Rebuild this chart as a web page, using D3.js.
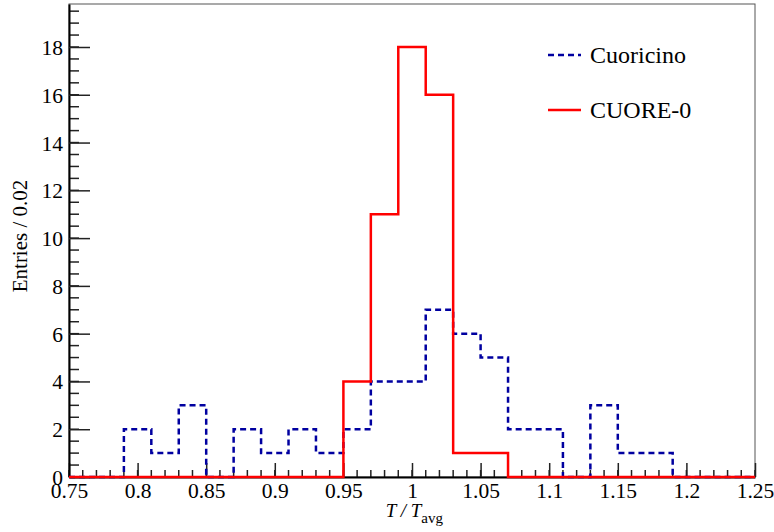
<!DOCTYPE html>
<html lang="en">
<head>
  <meta charset="UTF-8">
  <title>T / Tavg</title>
  <style>
    body { margin: 0; background: #fff; }
    svg text { font-family: "Liberation Serif", serif; }
    .frame { fill: none; stroke: #555; stroke-width: 1; }
    .axis path { stroke: #000; stroke-width: 2; }
    .axis line { stroke: #222; stroke-width: 1.5; }
  </style>
</head>
<body>
<div id="chart"></div>
<script src="https://d3js.org/d3.v7.min.js"></script>
<script>
  // bin edges 0.75 .. 1.25 in steps of 0.02 (25 bins)
  const binLow = [0.75, 0.77, 0.79, 0.81, 0.83, 0.85, 0.87, 0.89, 0.91, 0.93, 0.95, 0.97, 0.99,
                  1.01, 1.03, 1.05, 1.07, 1.09, 1.11, 1.13, 1.15, 1.17, 1.19, 1.21, 1.23];
  const cuoricino = [0, 0, 2, 1, 3, 0, 2, 1, 2, 1, 2, 4, 4, 7, 6, 5, 2, 2, 0, 3, 1, 1, 0, 0, 0];
  const cuore0 = [0, 0, 0, 0, 0, 0, 0, 0, 0, 0, 4, 11, 18, 16, 1, 1, 0, 0, 0, 0, 0, 0, 0, 0, 0];
  const binWidth = 0.02;
  const xTicks = [0.75, 0.8, 0.85, 0.9, 0.95, 1, 1.05, 1.1, 1.15, 1.2, 1.25];
  const yTicks = [0, 2, 4, 6, 8, 10, 12, 14, 16, 18];
  const series = [
    { name: "Cuoricino", values: cuoricino, color: "#0000a0", dash: "6,4" },
    { name: "CUORE-0", values: cuore0, color: "#ff0000", dash: null }
  ];

  const serif = '"Liberation Serif"';
  const width = 774, height = 532;
  const pLeft = 69, pRight = 755, pTop = 4, pBottom = 477;

  const x = d3.scaleLinear().domain([0.75, 1.25]).range([pLeft, pRight]);
  const y = d3.scaleLinear().domain([0, 19.8]).range([pBottom, pTop]);

  const svg = d3.select('#chart').append('svg')
    .attr('width', width).attr('height', height)
    .attr('font-family', serif);

  svg.append('rect').classed('frame', true)
    .attr('x', pLeft).attr('y', pTop)
    .attr('width', pRight - pLeft).attr('height', pBottom - pTop);

  // minor ticks
  const xMinor = d3.range(0.75, 1.2501, 0.01);
  svg.append('g').selectAll('line').data(xMinor).enter().append('line')
    .attr('x1', d => x(d)).attr('x2', d => x(d))
    .attr('y1', pBottom).attr('y2', pBottom - 7)
    .attr('stroke', '#222').attr('stroke-width', 1.5);
  const yMinor = d3.range(0, 19.8, 0.5);
  svg.append('g').selectAll('line').data(yMinor).enter().append('line')
    .attr('x1', pLeft).attr('x2', pLeft + 10)
    .attr('y1', d => y(d)).attr('y2', d => y(d))
    .attr('stroke', '#222').attr('stroke-width', 1.5);

  // x axis
  const gx = svg.append('g').classed('axis', true)
    .attr('transform', `translate(0,${pBottom})`)
    .call(d3.axisBottom(x).tickValues(xTicks).tickSize(-14).tickSizeOuter(0)
      .tickFormat(d => String(+d.toFixed(2))))
    .attr('font-family', serif).attr('font-size', 21.5);
  gx.selectAll('text').attr('y', 21).attr('dy', 0)
    .style('font-family', serif).attr('fill', '#000');

  // y axis
  const gy = svg.append('g').classed('axis', true)
    .attr('transform', `translate(${pLeft},0)`)
    .call(d3.axisLeft(y).tickValues(yTicks).tickSize(-21).tickSizeOuter(0))
    .attr('font-family', serif).attr('font-size', 21.5);
  gy.selectAll('text').attr('x', -6).attr('dy', '0.35em')
    .style('font-family', serif).attr('fill', '#000');

  // histograms
  const line = d3.line()
    .x(d => x(d[0])).y(d => y(d[1]))
    .curve(d3.curveStepAfter);

  series.forEach(s => {
    const pts = binLow.map((b, i) => [b, s.values[i]]);
    pts.push([binLow[binLow.length - 1] + binWidth, s.values[s.values.length - 1]]);
    svg.append('path')
      .datum(pts)
      .attr('d', line)
      .attr('fill', 'none')
      .attr('stroke', s.color)
      .attr('stroke-width', 2.5)
      .attr('stroke-dasharray', s.dash);
  });

  // legend
  const leg = svg.append('g');
  series.forEach((s, i) => {
    const yy = 55 + i * 55;
    leg.append('line')
      .attr('x1', 548).attr('x2', 581).attr('y1', yy).attr('y2', yy)
      .attr('stroke', s.color).attr('stroke-width', 2.5)
      .attr('stroke-dasharray', s.dash);
    leg.append('text')
      .attr('x', 590).attr('y', yy + 8)
      .style('font-family', serif).style('font-size', '24px')
      .text(s.name);
  });

  // axis titles
  const xt = svg.append('text')
    .attr('x', 443).attr('y', 517)
    .attr('text-anchor', 'end')
    .style('font-family', serif).style('font-size', '19px');
  xt.append('tspan').attr('font-style', 'italic').text('T');
  xt.append('tspan').attr('font-style', 'italic').text(' / ');
  xt.append('tspan').attr('font-style', 'italic').text('T');
  xt.append('tspan').style('font-size', '15px').attr('dy', 6).text('avg');

  svg.append('text')
    .attr('transform', 'translate(27,236) rotate(-90)')
    .attr('text-anchor', 'middle')
    .style('font-family', serif).style('font-size', '21px')
    .text('Entries / 0.02');
</script>
</body>
</html>
